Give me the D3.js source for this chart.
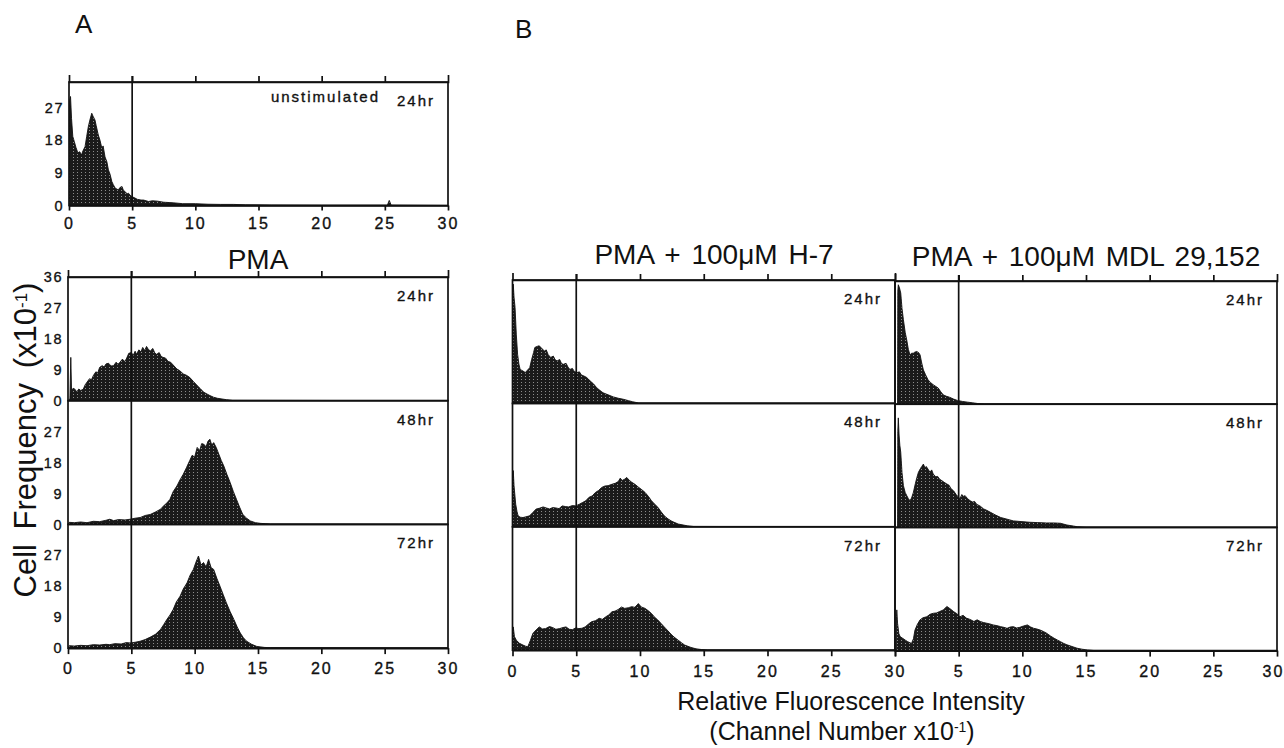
<!DOCTYPE html>
<html>
<head>
<meta charset="utf-8">
<script src="https://cdn.jsdelivr.net/npm/d3@7"></script>
<style>
  body { margin: 0; background: #fff; }
  svg { display: block; font-family: "Liberation Sans", Arial, Helvetica, sans-serif; }
  .axis .domain, .axis .tick line { stroke: #111; stroke-width: 1.7px; }
  .xax .tick text { font-size: 16px; letter-spacing: 2px; fill: #111; stroke: #111; stroke-width: 0.35px; }
  .yax .tick text { font-size: 14.5px; letter-spacing: 1.5px; fill: #111; stroke: #111; stroke-width: 0.35px; }
  .hr { font-size: 15px; letter-spacing: 2px; fill: #111; stroke: #111; stroke-width: 0.35px; }
</style>
</head>
<body>
<div id="chart"></div>
<script>
// tick values and labels
const xTicks = [0, 5, 10, 15, 20, 25, 30];
const topTicks = [5, 10, 15, 20, 25];
const yTicksFirst = [0, 9, 18, 27, 36];
const yTicksRest = [0, 9, 18, 27];
const hours = ["24hr", "48hr", "72hr"];
const gateValue = 5;
const columnTitles = ["PMA", "PMA + 100\u03bcM H-7", "PMA + 100\u03bcM MDL 29,152"];

// histograms: [channel x10^-1, cell frequency x10^-1]
const unstim24 = [[0,0],[0.05,29],[0.12,30],[0.2,24],[0.3,19],[0.42,17.6],[0.55,16],[0.7,14.5],[0.85,14.8],[0.99,13.9],[1.1,15],[1.27,16.2],[1.4,19],[1.53,21.7],[1.65,23.5],[1.8,25.4],[1.9,24.6],[2.06,23.5],[2.15,22],[2.32,19.4],[2.45,18],[2.6,15.8],[2.7,16.4],[2.85,13.4],[3.0,12],[3.12,9.8],[3.25,8.6],[3.39,6.6],[3.5,5.8],[3.65,4.8],[3.8,4.5],[3.9,4.3],[4.05,5],[4.2,5.2],[4.3,4.2],[4.45,3.8],[4.6,3.2],[4.7,3.4],[4.85,2.8],[5.0,2.4],[5.2,2.1],[5.4,1.7],[5.7,1.5],[5.9,1.5],[6.3,1.1],[6.6,1.3],[7,1.2],[7.5,0.9],[8.0,0.8],[8.4,0.7],[9,0.5],[10,0.5],[11,0.35],[12,0.3],[13,0.3],[14,0.2],[16,0.15],[20,0.1],[25.2,0.1],[25.35,1.4],[25.5,0.1],[30,0]];

const pma24 = [[0,0],[0.15,0.5],[0.22,12.6],[0.28,3],[0.4,3.6],[0.5,3.5],[0.7,2.6],[0.85,3.4],[1.0,3.0],[1.2,3.3],[1.35,4.6],[1.5,5.4],[1.7,6.4],[1.85,6.1],[2.0,7.3],[2.2,8.4],[2.35,8.1],[2.5,9.7],[2.7,10.2],[2.85,9.8],[3.0,10.7],[3.2,10.9],[3.4,10.1],[3.6,10.2],[3.8,11.2],[3.95,10.6],[4.1,11.2],[4.3,12.1],[4.45,11.4],[4.6,12.1],[4.8,13.8],[5.0,14.0],[5.15,13.2],[5.3,14.4],[5.4,13.5],[5.6,14.8],[5.75,14.2],[5.9,15.5],[6.05,14.6],[6.2,15.8],[6.35,14.9],[6.5,14.5],[6.7,15.2],[6.85,13.9],[7.0,13.5],[7.2,14],[7.35,12.9],[7.5,12.6],[7.7,12.4],[7.9,11.4],[8.1,11.2],[8.3,10.4],[8.6,9.2],[8.8,8.8],[9.1,7.8],[9.35,7.4],[9.6,6.8],[9.9,5.6],[10.2,4.4],[10.45,3.5],[10.7,2.5],[11.0,1.9],[11.2,1.5],[11.5,1.0],[11.8,0.7],[12.5,0.3],[13,0.1],[30,0]];

const pma48 = [[0,0],[0.1,0.6],[0.5,0.5],[1,0.7],[1.5,0.5],[2,0.9],[2.5,0.8],[3,1.2],[3.3,1.5],[3.6,1.1],[4,1.4],[4.5,1.3],[4.9,1.5],[5.3,1.8],[5.7,2.0],[6.1,2.6],[6.5,2.9],[6.9,3.6],[7.3,4.4],[7.6,5.6],[7.8,6.2],[8.05,7.3],[8.3,9.5],[8.6,11.2],[8.85,13],[9.1,14.6],[9.35,16.5],[9.6,18.5],[9.8,20.1],[10.0,19.6],[10.2,22.4],[10.4,21.5],[10.55,23.5],[10.7,23.4],[10.9,22.6],[11.05,24.2],[11.2,24.8],[11.35,23.1],[11.5,23.8],[11.7,22.4],[11.9,20.5],[12.1,18.6],[12.3,17],[12.55,14.5],[12.8,12.2],[13.05,9.6],[13.3,7.3],[13.55,5],[13.8,2.9],[14.1,1.8],[14.4,1.0],[14.8,0.5],[15.2,0.3],[16,0.1],[30,0]];

const pma72 = [[0,0],[0.1,0.7],[0.5,0.6],[1,0.8],[1.5,0.7],[2,1.0],[2.5,0.9],[3,1.1],[3.3,1.0],[3.7,1.3],[4.2,1.2],[4.6,1.6],[4.9,1.5],[5.3,1.7],[5.7,2.0],[6.1,2.5],[6.5,3.2],[6.9,4.0],[7.3,5.4],[7.55,6.8],[7.8,8.3],[8.05,9.6],[8.3,11.2],[8.55,13.4],[8.85,15.1],[9.1,17.2],[9.4,19],[9.65,21.3],[9.9,22.9],[10.1,25],[10.3,26.8],[10.5,24.2],[10.7,24.9],[10.9,23.6],[11.1,25.8],[11.3,23.4],[11.5,22.9],[11.75,20.3],[12.0,18],[12.25,15.6],[12.5,13.2],[12.8,10.6],[13.1,8.3],[13.35,6.2],[13.6,4.4],[13.85,3.0],[14.1,2],[14.5,1.1],[14.9,0.5],[15.5,0.2],[16,0.1],[30,0]];

const h7_24 = [[0,0],[0.02,30],[0.06,34.8],[0.12,31],[0.2,28],[0.3,20],[0.4,14.3],[0.5,11.5],[0.6,9.9],[0.8,9.5],[1.0,9],[1.15,9.6],[1.35,10.4],[1.5,12.8],[1.65,14.8],[1.75,16.3],[1.9,16.6],[2.1,16.8],[2.3,16],[2.5,15.3],[2.65,15.6],[2.8,14.2],[3.0,13.4],[3.2,13.8],[3.35,12.7],[3.5,12.4],[3.7,12.8],[3.85,11.6],[4.0,11.4],[4.2,11.7],[4.35,10.6],[4.5,9.9],[4.7,10.2],[4.85,9.3],[5.05,9],[5.25,9.2],[5.4,8.3],[5.6,8],[5.8,7.6],[5.95,7.1],[6.1,6.5],[6.35,5.7],[6.6,4.6],[6.85,3.8],[7.1,3.1],[7.5,2.5],[7.9,1.9],[8.3,1.5],[8.7,1.2],[9.1,0.8],[9.4,0.5],[9.9,0.1],[30,0]];

const h7_48 = [[0,0],[0.03,14],[0.06,16.4],[0.12,12],[0.25,6.6],[0.35,4.5],[0.44,3.2],[0.6,2.8],[0.82,2.7],[1.05,2.9],[1.34,3.2],[1.6,4.2],[1.86,5.2],[2.1,5.4],[2.4,5.8],[2.65,5.5],[2.9,5.2],[3.15,5.6],[3.4,5.5],[3.65,5.3],[3.9,6.1],[4.15,5.9],[4.4,5.8],[4.7,6.2],[4.96,6.1],[5.25,6.6],[5.5,7.1],[5.75,7.6],[6.0,8.6],[6.25,9.0],[6.5,10],[6.75,10.6],[7.0,11.5],[7.25,11.9],[7.5,12],[7.8,12.4],[8.06,12.7],[8.3,13.2],[8.45,14.2],[8.6,13.5],[8.8,13.9],[8.96,14.4],[9.15,13.6],[9.35,13],[9.6,12.4],[9.9,11.5],[10.15,10.8],[10.4,10],[10.65,8.9],[10.9,7.6],[11.15,6.6],[11.4,5.7],[11.65,4.4],[11.9,3.2],[12.2,2.3],[12.5,1.6],[13.0,0.8],[13.7,0.3],[14.2,0.1],[30,0]];

const h7_72 = [[0,0],[0.03,5],[0.06,6.8],[0.15,4],[0.3,2.9],[0.55,2],[0.82,1.5],[1.0,1.2],[1.2,1],[1.4,2.8],[1.6,4.9],[1.85,5.9],[2.1,6.8],[2.35,6.2],[2.6,6.3],[2.9,6.9],[3.15,6.6],[3.4,6.1],[3.7,6.3],[3.95,6.6],[4.2,6.8],[4.45,6.1],[4.7,6],[4.95,6.5],[5.2,6.3],[5.45,6.4],[5.7,6.8],[5.95,7.6],[6.2,8.3],[6.5,8.6],[6.8,9.3],[7.05,9.0],[7.3,9.7],[7.55,10.3],[7.8,11.2],[8.05,11.4],[8.3,11.9],[8.55,12.6],[8.8,12.2],[9.1,12.4],[9.35,12.7],[9.6,12.5],[9.87,13.6],[10.1,12.6],[10.4,12.2],[10.65,11.5],[10.9,10.7],[11.15,9.6],[11.4,8.8],[11.65,7.8],[11.9,6.8],[12.2,5.6],[12.5,4.4],[12.75,3.6],[13.0,2.9],[13.25,2.2],[13.5,1.5],[14.0,0.8],[14.4,0.4],[14.8,0.2],[15.3,0.05],[30,0]];

const mdl24 = [[0.2,0],[0.22,33],[0.26,34.9],[0.35,34],[0.45,32.5],[0.55,28],[0.66,24.7],[0.8,21],[0.92,18.8],[1.05,16],[1.18,14.4],[1.3,14.9],[1.44,14.9],[1.55,15.2],[1.7,15.4],[1.85,15.1],[1.97,14.4],[2.1,12],[2.23,10],[2.4,8.6],[2.6,7.1],[2.8,6.3],[3.0,5.7],[3.2,5.2],[3.4,4.7],[3.6,3.6],[3.8,2.7],[4.05,2.3],[4.3,2],[4.6,1.5],[4.9,1.1],[5.3,0.8],[5.7,0.6],[6.1,0.4],[6.5,0.2],[7,0.05],[30,0]];

const mdl48 = [[0.2,0],[0.22,28],[0.26,32],[0.32,27],[0.38,24],[0.45,22],[0.55,16],[0.66,12.2],[0.8,10.2],[0.92,9.3],[1.05,8.4],[1.18,7.8],[1.3,8.6],[1.44,10.2],[1.6,12.8],[1.72,14.6],[1.84,16.1],[2.0,17.2],[2.1,17.8],[2.23,18.5],[2.35,17.4],[2.45,17.8],[2.6,17],[2.75,16.1],[2.88,16.8],[3.0,15.6],[3.2,14.8],[3.35,14.9],[3.5,14.1],[3.7,13.6],[3.85,13.2],[4.07,12.7],[4.25,12.3],[4.4,11.3],[4.6,10.7],[4.8,9.6],[5.0,8.8],[5.1,8.4],[5.25,9.6],[5.4,9.0],[5.5,9.3],[5.7,8.4],[5.9,7.8],[6.1,7.4],[6.25,7.6],[6.4,6.8],[6.7,6.2],[6.96,5.4],[7.2,5.0],[7.5,4.4],[7.9,3.6],[8.3,2.9],[8.8,2.4],[9.3,1.9],[9.9,1.7],[10.6,1.5],[11.2,1.4],[11.9,1.3],[12.5,1.3],[13.0,1.2],[13.5,0.7],[14.0,0.4],[14.3,0.2],[15,0.05],[30,0]];

const mdl72 = [[0.1,0],[0.12,10],[0.14,11.9],[0.2,8],[0.3,5],[0.4,4.1],[0.6,3.6],[0.79,3.1],[1.0,2.6],[1.3,2.1],[1.45,3.5],[1.57,6],[1.75,7.6],[1.97,9],[2.2,9.6],[2.5,9.9],[2.75,10.6],[3.0,10.9],[3.25,11.0],[3.5,11.4],[3.8,11.9],[4.07,12.9],[4.3,12.3],[4.6,11.4],[4.85,10.8],[5.1,9.9],[5.35,10.3],[5.6,9.5],[5.9,9.1],[6.2,8.5],[6.45,9.0],[6.7,8.5],[6.95,8.2],[7.2,8],[7.45,7.8],[7.7,7.5],[8.0,7.3],[8.3,7],[8.55,6.8],[8.8,6.5],[9.05,6.9],[9.3,7],[9.55,6.6],[9.8,6.8],[10.1,7.2],[10.4,7.5],[10.65,6.9],[10.9,6.5],[11.15,6.3],[11.4,6],[11.65,5.6],[11.9,5.1],[12.2,4.3],[12.5,3.6],[12.75,3.1],[13.0,2.6],[13.25,2.1],[13.5,1.7],[13.9,1.2],[14.3,0.7],[14.7,0.4],[15.1,0.2],[15.6,0.05],[30,0]];

const W = 1284, H = 748;
const svg = d3.select("#chart").append("svg").attr("width", W).attr("height", H);

// grainy dark fill like the printed histograms
const defs = svg.append("defs");
const pat = defs.append("pattern").attr("id", "grain")
    .attr("width", 4).attr("height", 3).attr("patternUnits", "userSpaceOnUse");
pat.append("rect").attr("width", 4).attr("height", 3).attr("fill", "#1a1a1a");
pat.append("rect").attr("x", 1).attr("y", 1).attr("width", 1).attr("height", 1).attr("fill", "#8c8c8c");

let clipId = 0;

// one histogram panel
function drawPanel(x, y, data, label) {
    const [x0, x1] = x.range();
    const [yb, yt] = y.range();
    const id = "clip" + (clipId++);
    defs.append("clipPath").attr("id", id).append("rect")
        .attr("x", x0).attr("y", yt).attr("width", x1 - x0).attr("height", yb - yt);

    const area = d3.area()
        .x(d => x(d[0]))
        .y0(y(0))
        .y1(d => y(d[1]));

    svg.append("path")
        .datum(data)
        .attr("clip-path", `url(#${id})`)
        .attr("d", area)
        .attr("fill", "url(#grain)")
        .attr("stroke", "#111")
        .attr("stroke-width", 0.9);

    svg.append("rect")
        .attr("x", x0).attr("y", yt)
        .attr("width", x1 - x0).attr("height", yb - yt)
        .attr("fill", "none").attr("stroke", "#111").attr("stroke-width", 1.7);

    svg.append("text").attr("class", "hr")
        .attr("x", x1 - 13).attr("y", yt + 24)
        .attr("text-anchor", "end")
        .text(label);
}

function yLabels(y, ticks, x0) {
    const g = svg.append("g").attr("class", "axis yax")
        .attr("transform", `translate(${x0},0)`)
        .call(d3.axisLeft(y).tickValues(ticks).tickSize(0).tickPadding(5));
    g.select(".domain").remove();
}

function frameAxes(x, top, bottom, tickSize, padding, fmt) {
    svg.append("g").attr("class", "axis")
        .attr("transform", `translate(0,${top})`)
        .call(d3.axisTop(x).tickValues(topTicks).tickSize(6).tickSizeOuter(7).tickFormat(""));
    const g = svg.append("g").attr("class", "axis xax")
        .attr("transform", `translate(0,${bottom})`)
        .call(d3.axisBottom(x).tickValues(xTicks).tickSize(tickSize).tickSizeOuter(0)
            .tickPadding(padding).tickFormat(fmt || (d => d)));
    // keep the last label inside the page
    g.selectAll(".tick text").filter(d => d === 30 && x(30) > W - 20).attr("dx", -4);
    // gate line at channel 5
    svg.append("line")
        .attr("x1", x(gateValue)).attr("x2", x(gateValue))
        .attr("y1", top - 6).attr("y2", bottom)
        .attr("stroke", "#111").attr("stroke-width", 1.7);
}

// ---- A: unstimulated panel
{
    const x = d3.scaleLinear().domain([0, 30]).range([69, 448]);
    const y = d3.scaleLinear().domain([0, 34]).range([205.5, 82]);
    drawPanel(x, y, unstim24, "24hr");
    svg.append("text").attr("class", "hr")
        .attr("x", 380).attr("y", 82 + 20).attr("text-anchor", "end")
        .text("unstimulated");
    yLabels(y, yTicksRest, 69);
    frameAxes(x, 82, 205.5, 5, 7);
}

// ---- the three time-course columns
const columns = [
    { x0: 68, x1: 448, top: 277, rowH: 123.7, title: columnTitles[0], cx: 258, ty: 269,
      series: [pma24, pma48, pma72], yAxis: true },
    { x0: 512.5, x1: 895, top: 280, rowH: 123.4, title: columnTitles[1], cx: 714, ty: 264,
      series: [h7_24, h7_48, h7_72], yAxis: false },
    { x0: 895, x1: 1277, top: 281, rowH: 123.2, title: columnTitles[2], cx: 1086, ty: 266,
      series: [mdl24, mdl48, mdl72], yAxis: false, hideZero: true }
];

columns.forEach(c => {
    const x = d3.scaleLinear().domain([0, 30]).range([c.x0, c.x1]);
    c.series.forEach((data, i) => {
        const yt = c.top + i * c.rowH;
        const y = d3.scaleLinear().domain([0, 36]).range([yt + c.rowH, yt]);
        drawPanel(x, y, data, hours[i]);
        if (c.yAxis) yLabels(y, i === 0 ? yTicksFirst : yTicksRest, c.x0);
    });
    const bottom = c.top + 3 * c.rowH;
    frameAxes(x, c.top, bottom, 6, 9, c.hideZero ? (d => d === 0 ? "" : d) : null);

    svg.append("text")
        .attr("x", c.cx).attr("y", c.ty)
        .attr("text-anchor", "middle")
        .attr("font-size", 28).attr("word-spacing", 3).attr("fill", "#111")
        .text(c.title);
});

// ---- panel letters and axis titles
svg.append("text").attr("x", 75).attr("y", 33).attr("font-size", 26).attr("fill", "#111").text("A");
svg.append("text").attr("x", 515).attr("y", 38).attr("font-size", 26).attr("fill", "#111").text("B");

const yTitle = svg.append("text")
    .attr("transform", "translate(36,440) rotate(-90)")
    .attr("text-anchor", "middle")
    .attr("font-size", 31).attr("word-spacing", 6).attr("fill", "#111");
yTitle.append("tspan").text("Cell Frequency (x10");
yTitle.append("tspan").attr("font-size", 17).attr("baseline-shift", "super").text("-1");
yTitle.append("tspan").text(")");

svg.append("text")
    .attr("x", 851).attr("y", 710)
    .attr("text-anchor", "middle")
    .attr("font-size", 25).attr("fill", "#111")
    .text("Relative Fluorescence Intensity");

const xTitle = svg.append("text")
    .attr("x", 842).attr("y", 740)
    .attr("text-anchor", "middle")
    .attr("font-size", 25).attr("fill", "#111");
xTitle.append("tspan").text("(Channel Number x10");
xTitle.append("tspan").attr("font-size", 14).attr("baseline-shift", "super").text("-1");
xTitle.append("tspan").text(")");
</script>
</body>
</html>
